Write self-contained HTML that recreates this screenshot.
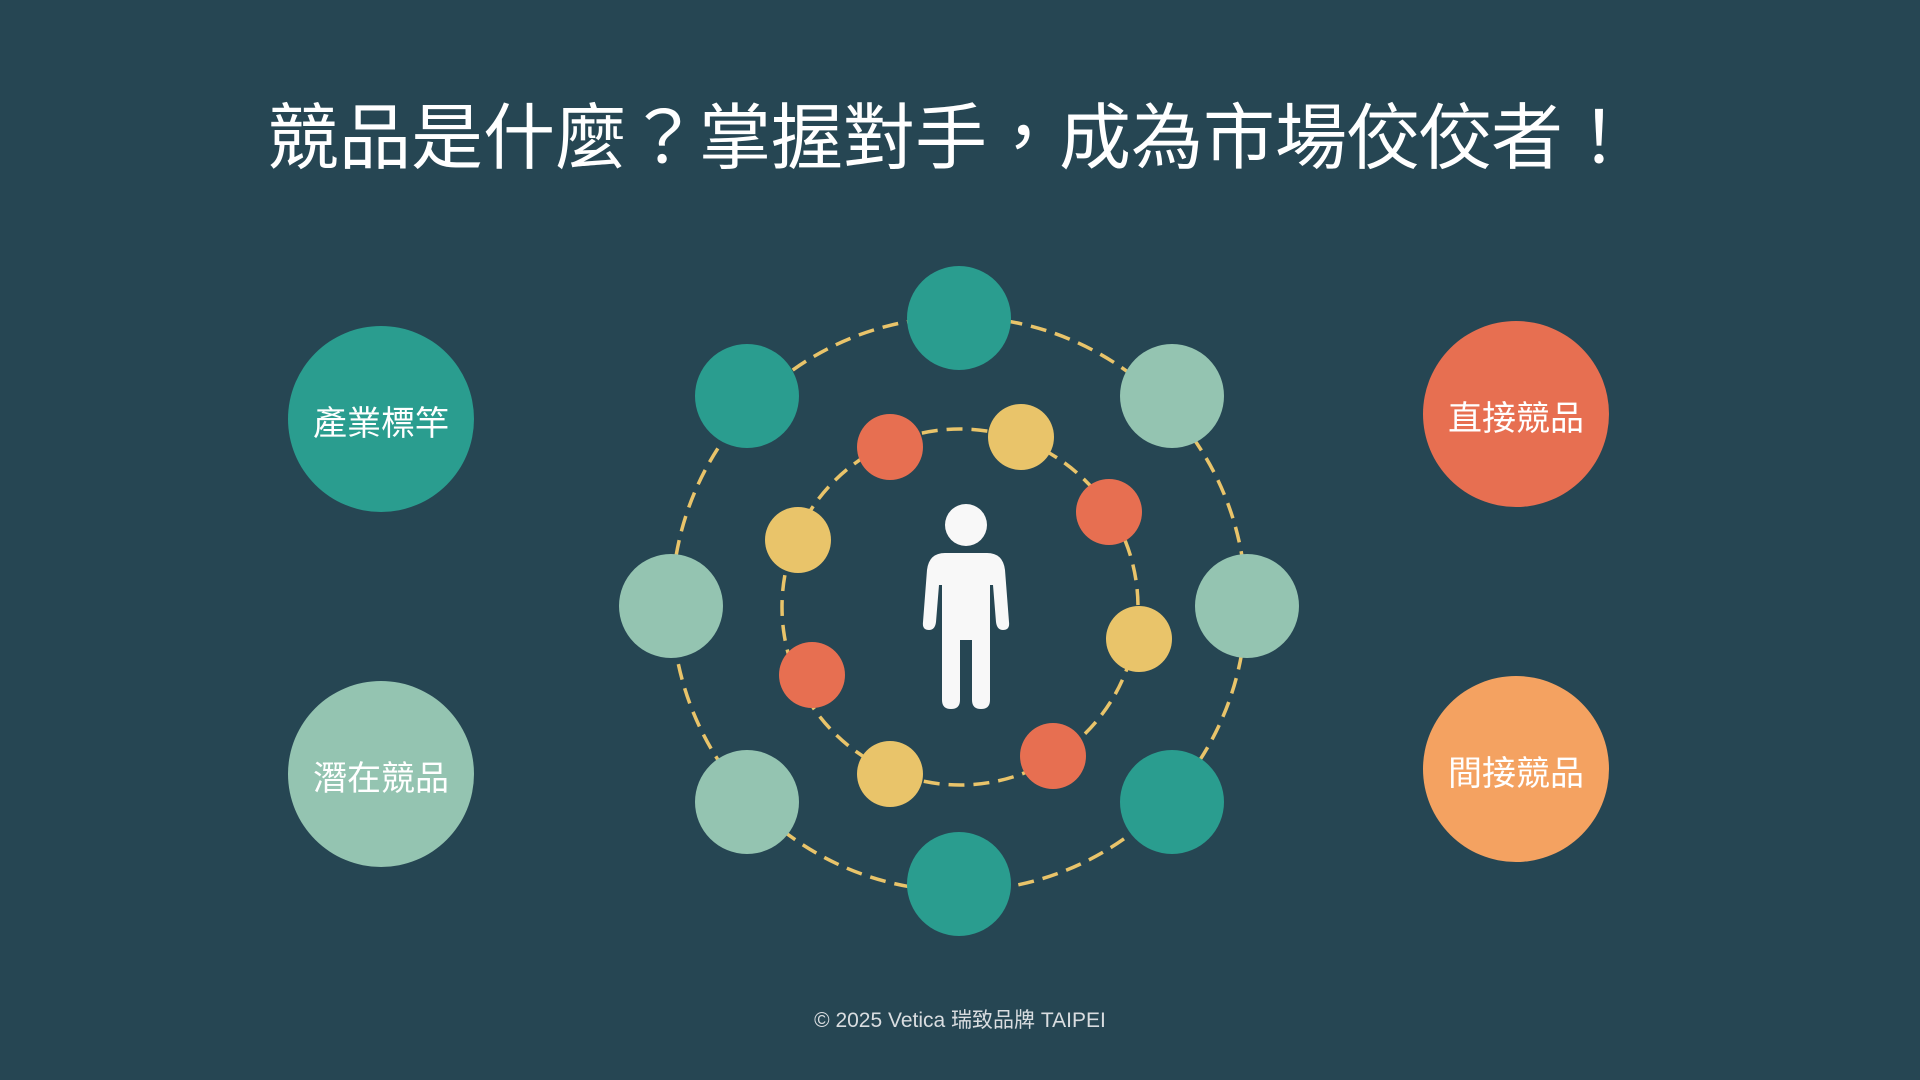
<!DOCTYPE html>
<html><head><meta charset="utf-8"><style>
html,body{margin:0;padding:0;background:#264653;}
svg{display:block}
</style></head><body>
<svg width="1920" height="1080" viewBox="0 0 1920 1080" xmlns="http://www.w3.org/2000/svg">
<rect width="1920" height="1080" fill="#264653"/>
<text x="951" y="163" text-anchor="middle" fill="#ffffff" font-size="72" font-weight="400" font-family="'Liberation Sans','Noto Sans CJK TC',sans-serif">競品是什麼？掌握對手，成為市場佼佼者！</text>
<g fill="none" stroke="#e9c46a" stroke-width="3.5" stroke-dasharray="16 9">
<circle cx="959" cy="604" r="287"/>
<circle cx="960" cy="607" r="178"/>
</g>
<g>
<circle cx="959" cy="318" r="52" fill="#2a9d8f"/>
<circle cx="1172" cy="396" r="52" fill="#94c4b1"/>
<circle cx="1247" cy="606" r="52" fill="#94c4b1"/>
<circle cx="1172" cy="802" r="52" fill="#2a9d8f"/>
<circle cx="959" cy="884" r="52" fill="#2a9d8f"/>
<circle cx="747" cy="802" r="52" fill="#94c4b1"/>
<circle cx="671" cy="606" r="52" fill="#94c4b1"/>
<circle cx="747" cy="396" r="52" fill="#2a9d8f"/>
</g>
<g>
<circle cx="890" cy="447" r="33" fill="#e76f51"/>
<circle cx="1021" cy="437" r="33" fill="#e9c46a"/>
<circle cx="1109" cy="512" r="33" fill="#e76f51"/>
<circle cx="1139" cy="639" r="33" fill="#e9c46a"/>
<circle cx="1053" cy="756" r="33" fill="#e76f51"/>
<circle cx="890" cy="774" r="33" fill="#e9c46a"/>
<circle cx="812" cy="675" r="33" fill="#e76f51"/>
<circle cx="798" cy="540" r="33" fill="#e9c46a"/>
</g>
<g fill="#f8f8f8">
<circle cx="966" cy="525" r="21"/>
<path d="M945 553 H987 Q1003 553 1005 570 L1009 622 Q1010 630 1003 630 Q997 630 996 622 L993 585 L990 585 L990 700 Q990 709 981 709 Q972 709 972 700 L972 640 H960 L960 700 Q960 709 951 709 Q942 709 942 700 L942 585 L939 585 L936 622 Q935 630 929 630 Q922 630 923 622 L927 570 Q929 553 945 553 Z"/>
</g>
<g font-family="'Liberation Sans','Noto Sans CJK TC',sans-serif" font-size="34" fill="#ffffff" text-anchor="middle">
<circle cx="381" cy="419" r="93" fill="#2a9d8f"/>
<text x="381" y="435">產業標竿</text>
<circle cx="381" cy="774" r="93" fill="#94c4b1"/>
<text x="381" y="790">潛在競品</text>
<circle cx="1516" cy="414" r="93" fill="#e76f51"/>
<text x="1516" y="430">直接競品</text>
<circle cx="1516" cy="769" r="93" fill="#f4a261"/>
<text x="1516" y="785">間接競品</text>
</g>
<text x="960" y="1027" text-anchor="middle" fill="#d9dde0" font-size="21" font-family="'Liberation Sans','Noto Sans CJK TC',sans-serif">© 2025 Vetica 瑞致品牌 TAIPEI</text>
</svg>
</body></html>
